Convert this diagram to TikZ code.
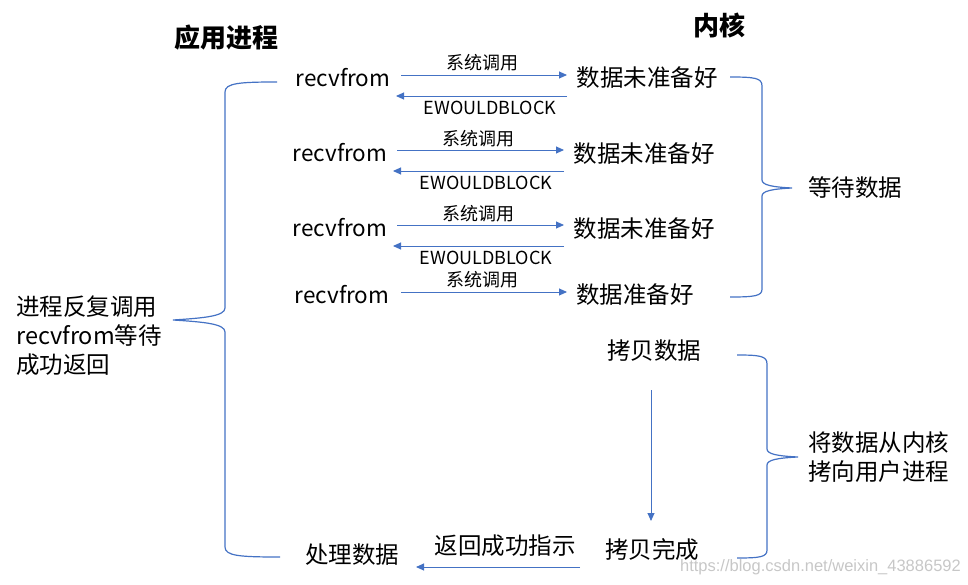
\documentclass[tikz,border=0pt]{standalone}
\usepackage{fontspec}
\setmainfont{Noto Sans CJK SC}
\newfontfamily\wmfont{Liberation Sans}
\usetikzlibrary{arrows.meta}
\definecolor{ob}{HTML}{4472C4}
\begin{document}
\begin{tikzpicture}[x=1pt,y=-1pt,
  txt/.style={inner sep=0pt, font=\fontsize{23.5}{29}\selectfont},
  rcv/.style={inner sep=0pt, font=\fontsize{22.5}{27}\selectfont},
  lbl/.style={inner sep=0pt, font=\fontsize{18}{22}\selectfont},
  head/.style={inner sep=0pt, font=\fontsize{26}{30}\selectfont\bfseries},
  arr/.style={draw=ob, line width=0.9pt, -{Triangle[width=7pt,length=8pt]}},
  brc/.style={draw=ob, line width=1.2pt}
]
\useasboundingbox (0,0) rectangle (968,585);

% headings
\node[head] (hp) at (226,38) {应用进程};
\node[head] (hk) at (719,25) {内核};

% row 1
\node[rcv] (r1) at (343,78) {recvfrom};
\node[txt] (k1) at (647,78) {数据未准备好};
\node[lbl] (s1) at (482,63) {系统调用};
\node[lbl] (e1) at (490,108) {EWOULDBLOCK};
% row 2
\node[rcv] (r2) at (340,153) {recvfrom};
\node[txt] (k2) at (644,154) {数据未准备好};
\node[lbl] (s2) at (478,139) {系统调用};
\node[lbl] (e2) at (486,183) {EWOULDBLOCK};
% row 3
\node[rcv] (r3) at (340,228) {recvfrom};
\node[txt] (k3) at (644,229) {数据未准备好};
\node[lbl] (s3) at (478,214) {系统调用};
\node[lbl] (e3) at (486,258) {EWOULDBLOCK};
% row 4
\node[rcv] (r4) at (342,295) {recvfrom};
\node[txt] (k4) at (635,295) {数据准备好};
\node[lbl] (s4) at (482,280) {系统调用};

% copy phase
\node[txt] (cp) at (654,351) {拷贝数据};
\node[txt] (cd) at (652,550) {拷贝完成};
\node[txt] (pd) at (352,555) {处理数据};
\node[txt] (rt) at (505,546) {返回成功指示};

% side texts
\node[txt, anchor=west] (wt) at (808,188) {等待数据};
\node[txt, anchor=west, align=left] (ct) at (808,457) {将数据从内核\\拷向用户进程};
\node[txt, anchor=west, align=left] (lt) at (16,336) {进程反复调用\\recvfrom等待\\成功返回};

% arrows
\draw[arr] ([shift={(58,-3)}]r1.center) -- ([shift={(-80,-3)}]k1.center);
\draw[arr] ([shift={(-80,18)}]k1.center) -- ([shift={(53,18)}]r1.center);
\draw[arr] ([shift={(57,-3)}]r2.center) -- ([shift={(-80,-4)}]k2.center);
\draw[arr] ([shift={(-80,17)}]k2.center) -- ([shift={(53,18)}]r2.center);
\draw[arr] ([shift={(57,-3)}]r3.center) -- ([shift={(-80,-4)}]k3.center);
\draw[arr] ([shift={(-80,17)}]k3.center) -- ([shift={(53,18)}]r3.center);
\draw[arr] ([shift={(59,-3)}]r4.center) -- ([shift={(-68,-3)}]k4.center);
\draw[arr] ([shift={(-3,39)}]cp.center) -- ([shift={(-1,-29)}]cd.center);
\draw[arr] ([shift={(-72,17)}]cd.center) -- ([shift={(64,12)}]pd.center);

% braces
\draw[brc] (277,82) .. controls (240,82) and (225,83) .. (225,92) -- (225,308)
  .. controls (225,316) and (205,318) .. (173,320)
  .. controls (205,322) and (225,324) .. (225,332) -- (225,547)
  .. controls (225,556) and (240,557) .. (280,557);
\draw[brc] (730,77) .. controls (755,77) and (762,78) .. (762,86) -- (762,180)
  .. controls (762,185) and (772,187) .. (792,188)
  .. controls (772,189) and (762,191) .. (762,196) -- (762,289)
  .. controls (762,296) and (755,297) .. (730,297);
\draw[brc] (737,355) .. controls (760,355) and (767,356) .. (767,364) -- (767,449)
  .. controls (767,454) and (777,456) .. (798,457)
  .. controls (777,458) and (767,460) .. (767,465) -- (767,550)
  .. controls (767,557) and (760,558) .. (737,558);

% watermark
\node[inner sep=0pt, text=black!22, font=\wmfont\fontsize{16.5}{20}\selectfont, anchor=east] (wm) at (961,567) {https://blog.csdn.net/weixin\_43886592};
\end{tikzpicture}
\end{document}
